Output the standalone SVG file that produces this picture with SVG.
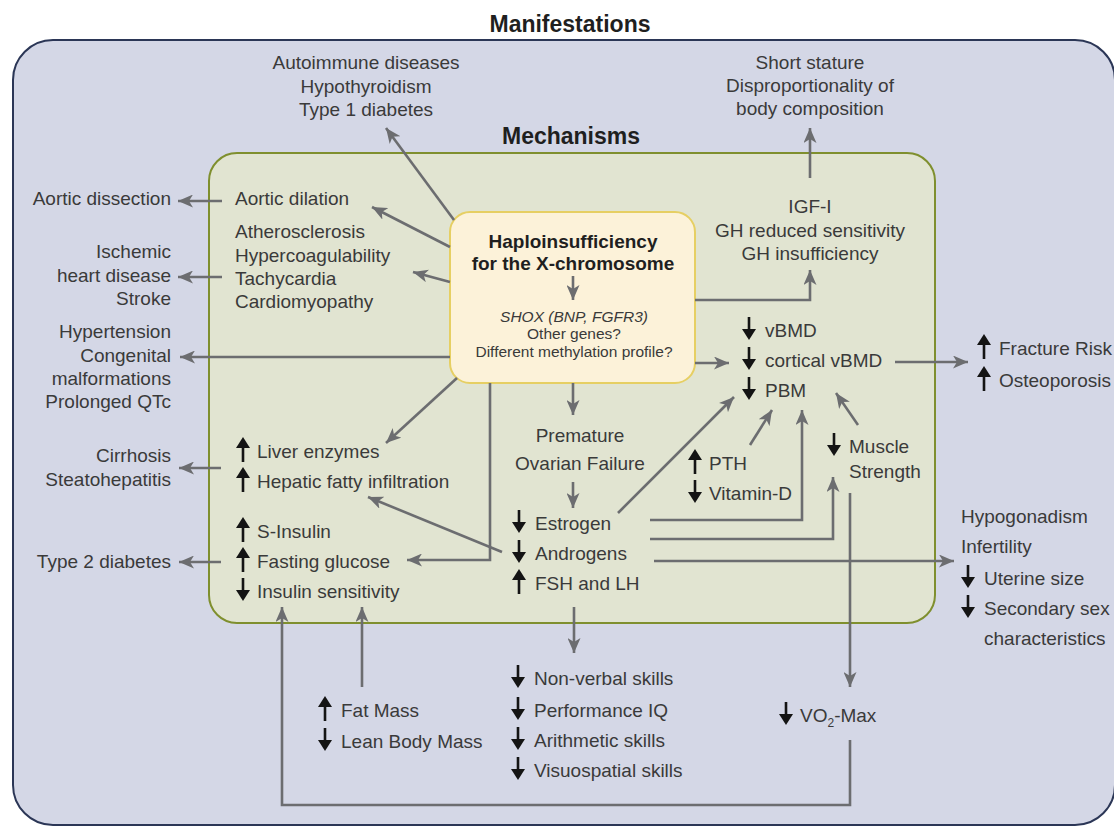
<svg xmlns="http://www.w3.org/2000/svg" xmlns:xlink="http://www.w3.org/1999/xlink" width="1114" height="826" viewBox="0 0 1114 826">
<defs>
<style>
.t{font-family:"Liberation Sans",Arial,sans-serif;font-size:19px;fill:#3a3a3a}
.s{font-family:"Liberation Sans",Arial,sans-serif;font-size:15.5px;fill:#3a3a3a}
.h{font-family:"Liberation Sans",Arial,sans-serif;font-size:19px;font-weight:bold;fill:#1f1f1f}
.ti{font-family:"Liberation Sans",Arial,sans-serif;font-size:23px;font-weight:bold;fill:#1f1f1f}
.c{text-anchor:middle}
.e{text-anchor:end}
.con path{fill:none;stroke:#6c6d70;stroke-width:2.6;marker-end:url(#ah)}
.sym{fill:#141414}
</style>
<marker id="ah" markerUnits="userSpaceOnUse" markerWidth="16" markerHeight="13" refX="15" refY="6.5" orient="auto">
<path d="M0,0 L15,6.5 L0,13 L4,6.5 Z" fill="#6c6d70"/>
</marker>
<g id="up" class="sym"><path d="M0,-21 L7,-10 L-7,-10 Z"/><rect x="-1.3" y="-11" width="2.6" height="15"/></g>
<g id="dn" class="sym"><path d="M0,3 L7,-8 L-7,-8 Z"/><rect x="-1.3" y="-20" width="2.6" height="13"/></g>
</defs>

<rect x="0" y="0" width="1114" height="826" fill="#ffffff"/>

<g id="manifestations-frame">
<rect x="13" y="40" width="1102" height="785" rx="40" ry="40" fill="#d4d7e6" stroke="#2b3656" stroke-width="2"/>
<text class="ti c" x="570" y="32">Manifestations</text>
</g>

<g id="mechanisms-frame">
<rect x="209" y="153" width="726" height="470" rx="28" ry="28" fill="#e1e4d1" stroke="#7f8f2e" stroke-width="2"/>
<text class="ti c" x="571" y="144">Mechanisms</text>
</g>

<g id="core">
<rect x="450" y="212" width="245" height="171" rx="20" ry="20" fill="#fcf2d9" stroke="#e6cf63" stroke-width="2"/>
<text class="h c" x="573" y="248">Haploinsufficiency</text>
<text class="h c" x="573" y="270">for the X-chromosome</text>
<text class="s c" x="574" y="322" font-style="italic">SHOX (BNP, FGFR3)</text>
<text class="s c" x="574" y="339">Other genes?</text>
<text class="s c" x="574" y="357">Different methylation profile?</text>
</g>

<g id="autoimmune">
<text class="t c" x="366" y="69">Autoimmune diseases</text>
<text class="t c" x="366" y="93">Hypothyroidism</text>
<text class="t c" x="366" y="116">Type 1 diabetes</text>
</g>

<g id="short-stature">
<text class="t c" x="810" y="69">Short stature</text>
<text class="t c" x="810" y="92">Disproportionality of</text>
<text class="t c" x="810" y="115">body composition</text>
</g>

<g id="aortic-dissection"><text class="t e" x="171" y="205">Aortic dissection</text></g>
<g id="ischemic">
<text class="t e" x="171" y="258">Ischemic</text>
<text class="t e" x="171" y="282">heart disease</text>
<text class="t e" x="171" y="305">Stroke</text>
</g>
<g id="hypertension">
<text class="t e" x="171" y="338">Hypertension</text>
<text class="t e" x="171" y="362">Congenital</text>
<text class="t e" x="171" y="385">malformations</text>
<text class="t e" x="171" y="408">Prolonged QTc</text>
</g>
<g id="cirrhosis">
<text class="t e" x="171" y="462">Cirrhosis</text>
<text class="t e" x="171" y="486">Steatohepatitis</text>
</g>
<g id="type2"><text class="t e" x="171" y="568">Type 2 diabetes</text></g>

<g id="fracture">
<use href="#up" x="984" y="355"/><text class="t" x="999" y="355">Fracture Risk</text>
<use href="#up" x="984" y="387"/><text class="t" x="999" y="387">Osteoporosis</text>
</g>

<g id="hypogonadism">
<text class="t" x="961" y="523">Hypogonadism</text>
<text class="t" x="961" y="553">Infertility</text>
<use href="#dn" x="968" y="585"/><text class="t" x="984" y="585">Uterine size</text>
<use href="#dn" x="968" y="615"/><text class="t" x="984" y="615">Secondary sex</text>
<text class="t" x="984" y="645">characteristics</text>
</g>

<g id="fat-mass">
<use href="#up" x="325" y="717"/><text class="t" x="341" y="717">Fat Mass</text>
<use href="#dn" x="325" y="748"/><text class="t" x="341" y="748">Lean Body Mass</text>
</g>

<g id="cognition">
<use href="#dn" x="518" y="685"/><text class="t" x="534" y="685">Non-verbal skills</text>
<use href="#dn" x="518" y="717"/><text class="t" x="534" y="717">Performance IQ</text>
<use href="#dn" x="518" y="747"/><text class="t" x="534" y="747">Arithmetic skills</text>
<use href="#dn" x="518" y="777"/><text class="t" x="534" y="777">Visuospatial skills</text>
</g>

<g id="vo2max">
<use href="#dn" x="786" y="722"/><text class="t" x="800" y="722">VO<tspan font-size="12" dy="5">2</tspan><tspan dy="-5">-Max</tspan></text>
</g>

<g id="aortic-dilation"><text class="t" x="235" y="205">Aortic dilation</text></g>
<g id="atherosclerosis">
<text class="t" x="235" y="238">Atherosclerosis</text>
<text class="t" x="235" y="262">Hypercoagulability</text>
<text class="t" x="235" y="285">Tachycardia</text>
<text class="t" x="235" y="308">Cardiomyopathy</text>
</g>

<g id="igf">
<text class="t c" x="810" y="213">IGF-I</text>
<text class="t c" x="810" y="237">GH reduced sensitivity</text>
<text class="t c" x="810" y="260">GH insufficiency</text>
</g>

<g id="liver">
<use href="#up" x="243" y="458"/><text class="t" x="257" y="458">Liver enzymes</text>
<use href="#up" x="243" y="488"/><text class="t" x="257" y="488">Hepatic fatty infiltration</text>
</g>

<g id="insulin">
<use href="#up" x="243" y="538"/><text class="t" x="257" y="538">S-Insulin</text>
<use href="#up" x="243" y="568"/><text class="t" x="257" y="568">Fasting glucose</text>
<use href="#dn" x="243" y="598"/><text class="t" x="257" y="598">Insulin sensitivity</text>
</g>

<g id="pof">
<text class="t c" x="580" y="442">Premature</text>
<text class="t c" x="580" y="470">Ovarian Failure</text>
</g>

<g id="hormones">
<use href="#dn" x="519" y="530"/><text class="t" x="535" y="530">Estrogen</text>
<use href="#dn" x="519" y="560"/><text class="t" x="535" y="560">Androgens</text>
<use href="#up" x="519" y="590"/><text class="t" x="535" y="590">FSH and LH</text>
</g>

<g id="bone">
<use href="#dn" x="749" y="337"/><text class="t" x="765" y="337">vBMD</text>
<use href="#dn" x="749" y="367"/><text class="t" x="765" y="367">cortical vBMD</text>
<use href="#dn" x="749" y="397"/><text class="t" x="765" y="397">PBM</text>
</g>

<g id="pth">
<use href="#up" x="695" y="470"/><text class="t" x="709" y="470">PTH</text>
<use href="#dn" x="695" y="500"/><text class="t" x="709" y="500">Vitamin-D</text>
</g>

<g id="muscle">
<use href="#dn" x="834" y="453"/><text class="t" x="849" y="453">Muscle</text>
<text class="t" x="849" y="478">Strength</text>
</g>

<g id="connectors" class="con">
<path d="M454,220 L386,128"/>
<path d="M450,247 L372,207"/>
<path d="M450,282 L413,272"/>
<path d="M222,201 L178,201"/>
<path d="M222,277 L178,277"/>
<path d="M450,357 L180,357"/>
<path d="M221,468 L179,468"/>
<path d="M221,562 L179,562"/>
<path d="M457,378 L386,443"/>
<path d="M490,383 V560 H407"/>
<path d="M502,552 L368,497"/>
<path d="M573,276 V300"/>
<path d="M573,383 V415"/>
<path d="M573,482 V508"/>
<path d="M574,607 V653"/>
<path d="M695,300 H810 V270"/>
<path d="M810,178 V128"/>
<path d="M695,363 H729"/>
<path d="M895,362 H968"/>
<path d="M618,513 L734,397"/>
<path d="M750,445 L772,410"/>
<path d="M650,520 H802 V410"/>
<path d="M650,539 H833 V477"/>
<path d="M654,561 H954"/>
<path d="M858,425 L836,393"/>
<path d="M850,493 V687"/>
<path d="M850,740 V805 H282 V607"/>
<path d="M362,687 V607"/>
</g>
</svg>
